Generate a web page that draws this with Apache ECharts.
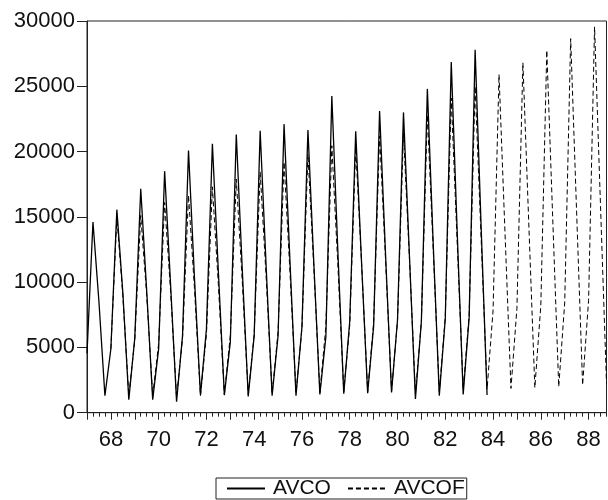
<!DOCTYPE html>
<html>
<head>
<meta charset="utf-8">
<script src="https://cdn.jsdelivr.net/npm/echarts@6/dist/echarts.min.js"></script>
<style>
html,body{margin:0;padding:0;background:#fff;}
#chart{width:608px;height:500px;}
</style>
</head>
<body>
<div id="chart"></div>
<script>
// Years covered by the quarterly axis
var years = [1967,1968,1969,1970,1971,1972,1973,1974,1975,1976,1977,1978,1979,1980,1981,1982,1983,1984,1985,1986,1987,1988];
var quarters = ['Q1','Q2','Q3','Q4'];
// Tick labels shown on the x axis
var tickLabels = ['68','70','72','74','76','78','80','82','84','86','88'];

// AVCO actual: 1967Q1 - 1983Q4
var avco = [
  4550,14600,8500,1300,
  4900,15550,9200,1000,
  5700,17150,9300,1000,
  4900,18500,9800,850,
  5900,20080,10300,1350,
  6400,20600,10800,1350,
  5400,21300,11000,1250,
  5900,21600,11200,1300,
  5900,22100,11500,1300,
  6600,21650,11300,1400,
  5800,24250,12500,1450,
  7000,21550,11300,1500,
  6600,23100,12100,1550,
  7100,23000,12000,1050,
  7000,24800,12700,1300,
  7200,26850,13800,1400,
  7300,27800,14300,1350
];
// AVCOF forecast: 1968Q1 - 1988Q4
var avcof = [
  4900,15000,9000,1300,
  5600,15100,9000,1300,
  5300,16100,9300,1200,
  5700,16650,9500,1300,
  6000,17300,9800,1400,
  5900,17900,10100,1400,
  6000,18450,10400,1450,
  6200,19200,10700,1500,
  6500,19800,11000,1550,
  6600,20450,11400,1600,
  6700,20300,11300,1600,
  6900,21200,11700,1650,
  7000,21400,11800,1500,
  7000,22800,12300,1600,
  7300,24100,13000,1750,
  7500,25000,13400,1800,
  7800,25900,13800,1860,
  8000,26800,14300,1910,
  8200,27750,14800,1990,
  8400,28650,15300,2120,
  8600,29550,15800,2250
];

var cats = [];
years.forEach(function(y){ quarters.forEach(function(q){ cats.push(y + q); }); });
var n = cats.length;
var avcoData = cats.map(function(c,i){ return i < avco.length ? avco[i] : null; });
var offset = n - avcof.length;
var avcofData = cats.map(function(c,i){ return i >= offset ? avcof[i-offset] : null; });

function yy(c){ return c.substr(2,2); }
function isLabel(i){ var c = cats[i]; return c.substr(4)==='Q1' && tickLabels.indexOf(yy(c)) >= 0; }
function isYear(i){ return cats[i].substr(4)==='Q1'; }

var font = 'Liberation Sans, Arial, sans-serif';
var chart = echarts.init(document.getElementById('chart'), null, {renderer:'canvas'});
chart.setOption({
  animation:false,
  backgroundColor:'#fff',
  grid:{left:87, top:21, right:1.5, bottom:87.3, show:true, borderColor:'#222', borderWidth:1, backgroundColor:'transparent'},
  legend:{
    data:['AVCO','AVCOF'],
    left:216, top:478,
    itemWidth:38, itemHeight:10, itemGap:16,
    itemStyle:{color:'rgba(0,0,0,0)', borderWidth:0, opacity:0},
    borderColor:'#222', borderWidth:1, borderRadius:0, padding:[0,2,0,10],
    textStyle:{fontFamily:font, fontSize:21, color:'#111', padding:[0,0,0,3]}
  },
  xAxis:[{
    type:'category', data:cats, boundaryGap:false, position:'bottom',
    axisLine:{show:true, lineStyle:{color:'#222', width:1}},
    axisTick:{show:true, interval:0, length:4, lineStyle:{color:'#222'}},
    axisLabel:{show:false},
    splitLine:{show:false}
  },{
    type:'category', data:cats, boundaryGap:false, position:'bottom',
    axisLine:{show:false},
    axisTick:{show:true, length:7, interval:function(i){ return isYear(i); }, lineStyle:{color:'#222'}},
    axisLabel:{show:true, interval:function(i){ return isLabel(i); }, formatter:function(v){ return yy(v); },
      margin:16, fontFamily:font, fontSize:22, color:'#111'},
    splitLine:{show:false}
  }],
  yAxis:{
    type:'value', min:0, max:30000, interval:5000,
    axisLine:{show:true, lineStyle:{color:'#222', width:1}},
    axisTick:{show:true, length:10, lineStyle:{color:'#222'}},
    axisLabel:{margin:12, fontFamily:font, fontSize:22, color:'#111', formatter:function(v){ return String(v); }},
    splitLine:{show:false}
  },
  series:[{
    name:'AVCO', type:'line', data:avcoData, xAxisIndex:0, symbol:'none', connectNulls:false,
    lineStyle:{color:'#000', width:1.3, type:'solid'}, itemStyle:{color:'#000'}
  },{
    name:'AVCOF', type:'line', data:avcofData, xAxisIndex:0, symbol:'none', connectNulls:false,
    lineStyle:{color:'#000', width:1, type:[5,3]}, itemStyle:{color:'#000'}
  }]
});
</script>
</body>
</html>
